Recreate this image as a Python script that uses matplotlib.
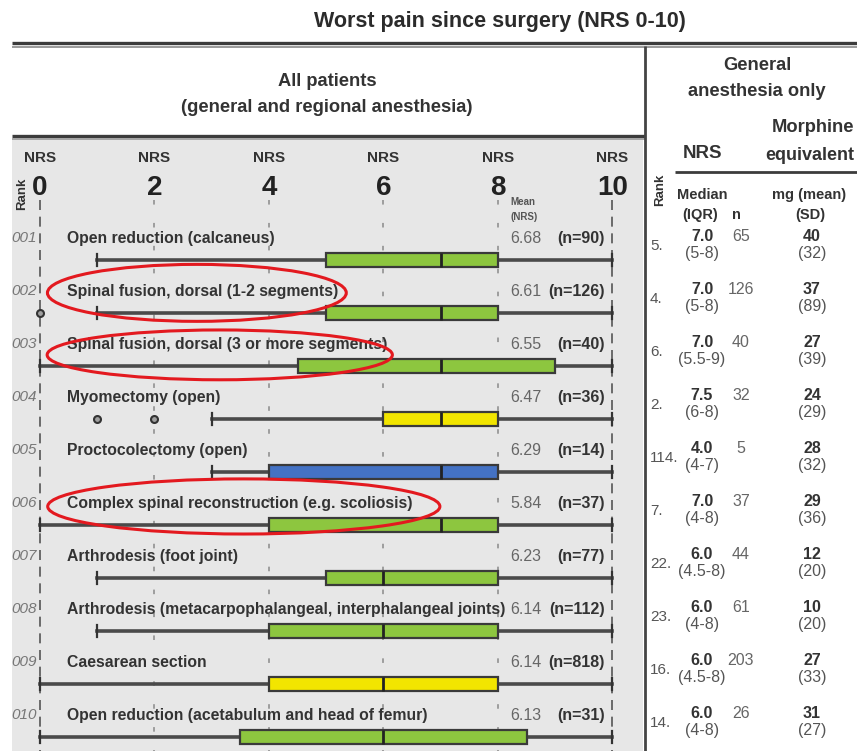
import matplotlib
matplotlib.use("Agg")
import matplotlib.pyplot as plt
from matplotlib.patches import Ellipse

plt.rcParams['font.family'] = ['Liberation Sans', 'DejaVu Sans']

# all patients (general and regional anesthesia)
procedures = ["Open reduction (calcaneus)",
              "Spinal fusion, dorsal (1-2 segments)",
              "Spinal fusion, dorsal (3 or more segments)",
              "Myomectomy (open)",
              "Proctocolectomy (open)",
              "Complex spinal reconstruction (e.g. scoliosis)",
              "Arthrodesis (foot joint)",
              "Arthrodesis (metacarpophalangeal, interphalangeal joints)",
              "Caesarean section",
              "Open reduction (acetabulum and head of femur)"]
ranks = ["001", "002", "003", "004", "005", "006", "007", "008", "009", "010"]
means = [6.68, 6.61, 6.55, 6.47, 6.29, 5.84, 6.23, 6.14, 6.14, 6.13]
n_all = [90, 126, 40, 36, 14, 37, 77, 112, 818, 31]
whislo = [1, 1, 0, 3, 3, 0, 1, 1, 0, 0]
q1 = [5, 5, 4.5, 6, 4, 4, 5, 4, 4, 3.5]
med = [7, 7, 7, 7, 7, 7, 6, 6, 6, 6]
q3 = [8, 8, 9, 8, 8, 8, 8, 8, 8, 8.5]
whishi = [10, 10, 10, 10, 10, 10, 10, 10, 10, 10]
fliers = [[], [0], [], [1, 2], [], [], [], [], [], []]
box_colors = ["#8dc63f", "#8dc63f", "#8dc63f", "#f2e500", "#4472c4",
              "#8dc63f", "#8dc63f", "#8dc63f", "#f2e500", "#8dc63f"]
circled = [2, 3, 6]

# general anesthesia only
ga_rank = ["5.", "4.", "6.", "2.", "114.", "7.", "22.", "23.", "16.", "14."]
ga_median = ["7.0", "7.0", "7.0", "7.5", "4.0", "7.0", "6.0", "6.0", "6.0", "6.0"]
ga_iqr = ["(5-8)", "(5-8)", "(5.5-9)", "(6-8)", "(4-7)", "(4-8)", "(4.5-8)", "(4-8)", "(4.5-8)", "(4-8)"]
ga_n = [65, 126, 40, 32, 5, 37, 44, 61, 203, 26]
morph_mean = [40, 37, 27, 24, 28, 29, 12, 10, 27, 31]
morph_sd = [32, 89, 39, 29, 32, 36, 20, 20, 33, 27]

nrs_ticks = [0, 2, 4, 6, 8, 10]

W, H = 857, 751
fig = plt.figure(figsize=(W / 100, H / 100), dpi=100)
fig.patch.set_facecolor("white")


def px_axes(x0, y0, x1, y1):
    return fig.add_axes([x0 / W, 1 - y1 / H, (x1 - x0) / W, (y1 - y0) / H])


dark = "#333333"
ylim = (10.264, -1.283)

# left panel: box plots
ax = px_axes(12, 139, 643, 751)
ax.set_facecolor("#e7e7e7")
ax.set_xlim(-0.489, 10.533)
ax.set_ylim(*ylim)
for s in ax.spines.values():
    s.set_visible(False)
ax.set_xticks([])
ax.set_yticks([])

rows = list(range(1, len(procedures) + 1))
for t in nrs_ticks:
    if t in (0, 10):
        ax.vlines(t, -0.13, ylim[0], colors="#555555", lw=1.2, linestyles=(0, (6, 4)), zorder=1)
    else:
        ax.vlines(t, -0.13, ylim[0], colors="#8a8a8a", lw=1.1, linestyles=(0, (3, 12)), zorder=1)
    ax.text(t, -0.925, "NRS", ha="center", va="center", fontsize=11, fontweight="bold", color=dark)
    ax.text(t, -0.36, str(t), ha="center", va="center", fontsize=20, fontweight="bold", color="#222222")

ax.text(-0.31, -0.25, "Rank", rotation=90, ha="center", va="center", fontsize=9.5,
        fontweight="bold", color=dark)
ax.text(8.21, -0.094, "Mean", ha="left", va="center", fontsize=7, fontweight="bold", color="#555555")
ax.text(8.21, 0.19, "(NRS)", ha="left", va="center", fontsize=7, fontweight="bold", color="#555555")

stats = []
for i in range(len(procedures)):
    stats.append(dict(med=med[i], q1=q1[i], q3=q3[i], whislo=whislo[i],
                      whishi=whishi[i], fliers=fliers[i]))

bp_kw = dict(positions=rows, widths=0.28, capwidths=0.22, patch_artist=True,
             manage_ticks=False, showfliers=True,
             boxprops=dict(edgecolor="#3a3a3a", linewidth=1.6),
             whiskerprops=dict(color="#4a4a4a", linewidth=2.6),
             capprops=dict(color="#333333", linewidth=1.6),
             medianprops=dict(color="#222222", linewidth=2),
             flierprops=dict(marker="o", markersize=5, markerfacecolor="#a0a0a0",
                             markeredgecolor="#333333", markeredgewidth=1.5))
try:
    bp = ax.bxp(stats, orientation="horizontal", **bp_kw)
except TypeError:
    bp = ax.bxp(stats, vert=False, **bp_kw)
for patch, c in zip(bp["boxes"], box_colors):
    patch.set_facecolor(c)
    patch.set_zorder(3)
for m in bp["medians"]:
    m.set_zorder(4)

for r, name, rk, mu, n in zip(rows, procedures, ranks, means, n_all):
    ly = r - 0.415
    ax.text(0.47, ly, name, ha="left", va="center", fontsize=11.3, fontweight="bold", color=dark)
    ax.text(-0.05, ly, rk, ha="right", va="center", fontsize=11, style="italic", color="#777777")
    ax.text(8.21, ly, f"{mu:.2f}", ha="left", va="center", fontsize=11.5, color="#666666")
    ax.text(9.87, ly, f"(n={n})", ha="right", va="center", fontsize=11.5, fontweight="bold", color=dark)

# red ellipses around highlighted procedures
ell_shape = {2: (2.74, 0.0, 5.22, 1.075), 3: (3.14, 0.17, 6.03, 0.94), 6: (3.56, 0.03, 6.85, 1.04)}
for r in circled:
    cx, dy, w, h = ell_shape[r]
    ax.add_patch(Ellipse((cx, r - 0.38 + dy), w, h, fill=False, edgecolor="#e3191f",
                         lw=2.2, zorder=6))

# right panel: general anesthesia only
ax2 = px_axes(645, 139, 857, 751)
ax2.set_xlim(0, 212)
ax2.set_ylim(*ylim)
ax2.axis("off")
for r, rk, md, iq, n, mm, sd in zip(rows, ga_rank, ga_median, ga_iqr, ga_n, morph_mean, morph_sd):
    ax2.text(5, r - 0.27, rk, ha="left", va="center", fontsize=11, color="#555555")
    ax2.text(57, r - 0.44, md, ha="center", va="center", fontsize=11.5, fontweight="bold", color=dark)
    ax2.text(57, r - 0.13, iq, ha="center", va="center", fontsize=11.5, color="#555555")
    ax2.text(96, r - 0.44, str(n), ha="center", va="center", fontsize=11.5, color="#666666")
    ax2.text(167, r - 0.44, str(mm), ha="center", va="center", fontsize=11.5, fontweight="bold", color=dark)
    ax2.text(167, r - 0.13, f"({sd})", ha="center", va="center", fontsize=11.5, color="#555555")

# overlay: title, headers and rules
ov = px_axes(0, 0, W, H)
ov.set_xlim(0, W)
ov.set_ylim(H, 0)
ov.axis("off")
ov.patch.set_alpha(0)

ov.text(500, 22, "Worst pain since surgery (NRS 0-10)", ha="center", va="center",
        fontsize=15.5, fontweight="bold", color="#2b2b2b")
ov.plot([12, W], [43, 43], color="#3c3c3c", lw=2.4, solid_capstyle="butt")
ov.plot([12, W], [46.5, 46.5], color="#9a9a9a", lw=1.4, solid_capstyle="butt")
ov.plot([12, 645], [136, 136], color="#3c3c3c", lw=2.4, solid_capstyle="butt")
ov.plot([12, 645], [139, 139], color="#9a9a9a", lw=1.2, solid_capstyle="butt")
ov.plot([645, 645], [46, H], color="#444444", lw=2, solid_capstyle="butt")
ov.plot([675, W], [172, 172], color="#3c3c3c", lw=2, solid_capstyle="butt")

ov.text(327, 82, "All patients", ha="center", va="center", fontsize=13.2, fontweight="bold", color=dark)
ov.text(327, 108, "(general and regional anesthesia)", ha="center", va="center",
        fontsize=13.2, fontweight="bold", color=dark)
ov.text(757, 65, "General", ha="center", va="center", fontsize=13.2, fontweight="bold", color=dark)
ov.text(757, 92, "anesthesia only", ha="center", va="center", fontsize=13.2, fontweight="bold", color=dark)
ov.text(813, 128, "Morphine", ha="center", va="center", fontsize=13.2, fontweight="bold", color=dark)
ov.text(703, 153, "NRS", ha="center", va="center", fontsize=13.5, fontweight="bold", color=dark)
ov.text(810, 155, "equivalent", ha="center", va="center", fontsize=13, fontweight="bold", color=dark)
ov.text(702, 195, "Median", ha="center", va="center", fontsize=10.5, fontweight="bold", color=dark)
ov.text(809, 195, "mg (mean)", ha="center", va="center", fontsize=10.5, fontweight="bold", color=dark)
ov.text(700, 215, "(IQR)", ha="center", va="center", fontsize=10.5, fontweight="bold", color=dark)
ov.text(736, 215, "n", ha="center", va="center", fontsize=10.5, fontweight="bold", color=dark)
ov.text(810, 215, "(SD)", ha="center", va="center", fontsize=10.5, fontweight="bold", color=dark)
ov.text(660, 190, "Rank", rotation=90, ha="center", va="center", fontsize=9.5, fontweight="bold", color=dark)

fig.savefig("out.png", dpi=100)
